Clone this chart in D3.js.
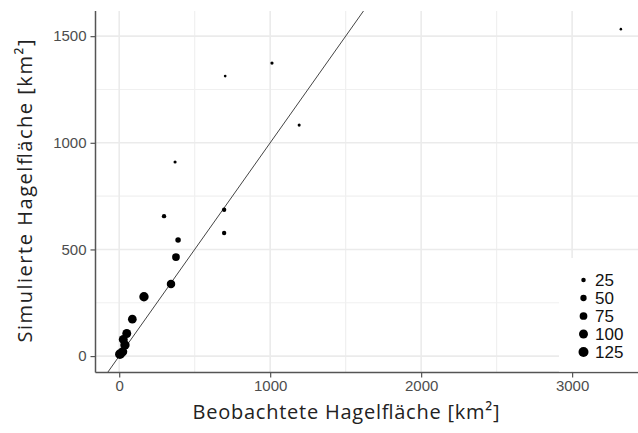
<!DOCTYPE html>
<html>
<head>
<meta charset="utf-8">
<script src="https://cdn.jsdelivr.net/npm/d3@7"></script>
<style>
    body { margin: 0; background: #fff; }
    svg { display: block; }
</style>
</head>
<body>
<div id="chart"></div>
<script>
// Observed vs. simulated hail area per event
const observedArea = [3323, 1012, 702, 1192, 370, 297, 695, 695, 390, 376, 343, 164, 87, 50, 27, 38, 23, 5];
const simulatedArea = [1533, 1374, 1313, 1083, 910, 656, 686, 577, 544, 464, 338, 278, 173, 106, 78, 52, 20, 9];
const pointSize = [8, 13, 9, 12, 12, 24, 24, 24, 38, 75, 90, 110, 95, 100, 100, 110, 105, 120];

// Tick values and legend entries
const xTicks = [0, 1000, 2000, 3000];
const yTicks = [0, 500, 1000, 1500];
const xMinor = [500, 1500, 2500, 3500];
const yMinor = [250, 750, 1250];
const legendValues = [25, 50, 75, 100, 125];

function createScatter() {
    const width = 638, height = 433;
    const panel = {left: 95.5, right: 647, top: 11, bottom: 372.5};

    const svg = d3.select("#chart")
        .append("svg")
        .attr("width", width)
        .attr("height", height);

    // Scales
    const x = d3.scaleLinear().domain([-157, 3496]).range([panel.left, panel.right]);
    const y = d3.scaleLinear().domain([-77, 1618]).range([panel.bottom, panel.top]);
    const r = d3.scaleSqrt().domain([0, 125]).range([0, 5]);

    svg.append("defs").append("clipPath")
        .attr("id", "panel-clip")
        .append("rect")
        .attr("x", panel.left)
        .attr("y", panel.top)
        .attr("width", panel.right - panel.left)
        .attr("height", panel.bottom - panel.top);

    const grid = svg.append("g");

    // Minor grid lines
    grid.selectAll(".minor-x")
        .data(xMinor)
        .enter().append("line")
        .attr("x1", d => x(d)).attr("x2", d => x(d))
        .attr("y1", panel.top).attr("y2", panel.bottom)
        .attr("stroke", "#f0f0f0").attr("stroke-width", 1.2);

    grid.selectAll(".minor-y")
        .data(yMinor)
        .enter().append("line")
        .attr("x1", panel.left).attr("x2", panel.right)
        .attr("y1", d => y(d)).attr("y2", d => y(d))
        .attr("stroke", "#f0f0f0").attr("stroke-width", 1.2);

    // Major grid lines
    grid.selectAll(".major-x")
        .data(xTicks)
        .enter().append("line")
        .attr("x1", d => x(d)).attr("x2", d => x(d))
        .attr("y1", panel.top).attr("y2", panel.bottom)
        .attr("stroke", "#ebebeb").attr("stroke-width", 1.6);

    grid.selectAll(".major-y")
        .data(yTicks)
        .enter().append("line")
        .attr("x1", panel.left).attr("x2", panel.right)
        .attr("y1", d => y(d)).attr("y2", d => y(d))
        .attr("stroke", "#ebebeb").attr("stroke-width", 1.6);

    // 1:1 line
    svg.append("line")
        .attr("clip-path", "url(#panel-clip)")
        .attr("x1", x(-200)).attr("y1", y(-200))
        .attr("x2", x(3600)).attr("y2", y(3600))
        .attr("stroke", "#444")
        .attr("stroke-width", 1);

    // Points
    const points = observedArea.map((d, i) => ({obs: d, sim: simulatedArea[i], size: pointSize[i]}));
    svg.append("g")
        .selectAll("circle")
        .data(points)
        .enter().append("circle")
        .attr("cx", d => x(d.obs))
        .attr("cy", d => y(d.sim))
        .attr("r", d => r(d.size))
        .attr("fill", "#000");

    // Axes
    const xAxis = svg.append("g")
        .attr("transform", `translate(0, ${panel.bottom})`)
        .call(d3.axisBottom(x).tickValues(xTicks).tickFormat(d3.format("d")).tickSize(5).tickPadding(3));
    const yAxis = svg.append("g")
        .attr("transform", `translate(${panel.left}, 0)`)
        .call(d3.axisLeft(y).tickValues(yTicks).tickFormat(d3.format("d")).tickSize(5).tickPadding(4));

    [xAxis, yAxis].forEach(a => {
        a.select(".domain").remove();
        a.selectAll(".tick line").attr("stroke", "#555").attr("stroke-width", 1.2);
        a.selectAll(".tick text")
            .attr("fill", "#4d4d4d")
            .style("font-family", "'Liberation Sans', Arial, sans-serif")
            .style("font-size", "15px");
    });

    // Axis lines
    svg.append("line")
        .attr("x1", panel.left).attr("x2", width)
        .attr("y1", panel.bottom).attr("y2", panel.bottom)
        .attr("stroke", "#555").attr("stroke-width", 1.5);
    svg.append("line")
        .attr("x1", panel.left).attr("x2", panel.left)
        .attr("y1", panel.top).attr("y2", panel.bottom)
        .attr("stroke", "#555").attr("stroke-width", 1.5);

    // Legend box covers the grid in the corner
    const legend = svg.append("g");
    legend.append("rect")
        .attr("x", 559).attr("y", 258)
        .attr("width", width - 559).attr("height", panel.bottom - 1 - 258)
        .attr("fill", "#fff");

    const legendY = d3.scalePoint().domain(legendValues).range([280, 352]);
    legend.selectAll("circle")
        .data(legendValues)
        .enter().append("circle")
        .attr("cx", 583.5)
        .attr("cy", d => legendY(d))
        .attr("r", d => r(d))
        .attr("fill", "#000");
    legend.selectAll("text")
        .data(legendValues)
        .enter().append("text")
        .attr("x", 595)
        .attr("y", d => legendY(d))
        .attr("dy", "0.36em")
        .style("font-family", "'Liberation Sans', Arial, sans-serif")
        .style("font-size", "17px")
        .attr("fill", "#111")
        .text(d => d);

    // Axis titles
    svg.append("text")
        .attr("x", 346)
        .attr("y", 419)
        .attr("text-anchor", "middle")
        .attr("textLength", 307)
        .style("font-family", "'Open Sans', sans-serif")
        .style("font-size", "20px")
        .attr("fill", "#222")
        .text("Beobachtete Hagelfläche [km²]");

    svg.append("text")
        .attr("transform", "translate(32, 191) rotate(-90)")
        .attr("text-anchor", "middle")
        .attr("textLength", 303)
        .style("font-family", "'Open Sans', sans-serif")
        .style("font-size", "20px")
        .attr("fill", "#222")
        .text("Simulierte Hagelfläche [km²]");
}

createScatter();
</script>
</body>
</html>
